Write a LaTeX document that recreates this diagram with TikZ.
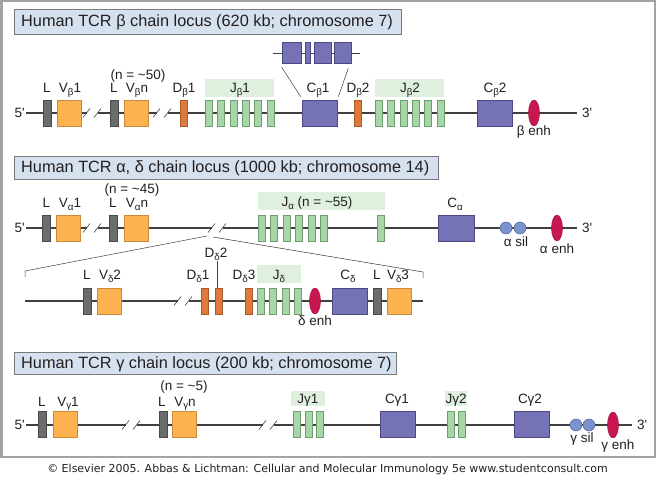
\documentclass[tikz,border=0pt]{standalone}
\usepackage{fontspec}
\setmainfont{Liberation Sans}
\newfontfamily\footfont{DejaVu Sans}
\usetikzlibrary{shapes.geometric,calc}
\definecolor{lgray}{HTML}{6B6C6E}
\definecolor{lgrayD}{HTML}{4A4A4A}
\definecolor{vorange}{HTML}{FBB24F}
\definecolor{vorangeD}{HTML}{C98A3A}
\definecolor{dorange}{HTML}{E07A3C}
\definecolor{dorangeD}{HTML}{A85A2A}
\definecolor{jgreen}{HTML}{A7D7A8}
\definecolor{jgreenD}{HTML}{6E9E6E}
\definecolor{jbandc}{HTML}{DFF0DF}
\definecolor{cpurple}{HTML}{7573B6}
\definecolor{cpurpleD}{HTML}{4A4885}
\definecolor{enhred}{HTML}{C8174F}
\definecolor{enhredD}{HTML}{9A1040}
\definecolor{silblue}{HTML}{7B93CE}
\definecolor{silblueD}{HTML}{4D6299}
\definecolor{tboxF}{HTML}{D6E1F0}
\definecolor{tboxD}{HTML}{7A7A7A}
\definecolor{framec}{HTML}{A3A3A3}
\definecolor{bb}{HTML}{404040}
\definecolor{txt}{HTML}{231F20}
\newcommand\sbs[1]{\raisebox{-2.6pt}{\fontsize{9.8}{11}\selectfont #1}}
\newcommand\prm{\textquotesingle}
\newcommand\brkmark[2]{%
  \fill[white] (#1-5.5,#2-2) rectangle (#1+5.5,#2+2);
  \draw[thinline] (#1-9,#2+4.5) -- (#1-2,#2-4.5);
  \draw[thinline] (#1+2,#2+4.5) -- (#1+9,#2-4.5);}
\tikzset{
  gene/.style={rectangle, draw, line width=0.6pt, inner sep=0pt, minimum height=26pt},
  lseg/.style={gene, fill=lgray, draw=lgrayD, minimum width=8pt},
  vseg/.style={gene, fill=vorange, draw=vorangeD, minimum width=24pt},
  dseg/.style={gene, fill=dorange, draw=dorangeD, minimum width=7pt},
  jseg/.style={gene, fill=jgreen, draw=jgreenD, minimum width=7pt},
  cseg/.style={gene, fill=cpurple, draw=cpurpleD, minimum width=35pt},
  cex/.style={gene, fill=cpurple, draw=cpurpleD, minimum height=21pt},
  enhancer/.style={ellipse, fill=enhred, draw=enhredD, line width=0.4pt, minimum width=11pt, minimum height=26pt, inner sep=0pt},
  silencer/.style={circle, fill=silblue, draw=silblueD, line width=0.5pt, minimum size=12pt, inner sep=0pt},
  jband/.style={rectangle, fill=jbandc, inner sep=0pt, minimum height=18pt},
  lab/.style={font=\fontsize{13.5}{15}\selectfont, text=txt, inner sep=0pt, anchor=base},
  ttl/.style={font=\fontsize{16.3}{18}\selectfont, text=txt, inner sep=0pt, anchor=west},
  tbox/.style={rectangle, draw=tboxD, fill=tboxF, line width=0.8pt, inner sep=0pt},
  backbone/.style={draw=bb, line width=1.2pt},
  thinline/.style={draw=bb, line width=0.6pt}
}
\begin{document}
\begin{tikzpicture}[x=1pt,y=-1pt]
\useasboundingbox (0,0) rectangle (656,478);
\fill[white] (0,0) rectangle (656,478);
\draw[draw=framec, line width=2.5pt] (1.25,1.25) rectangle (654.75,456.75);

% ================= beta locus =================
\node[tbox, minimum width=387pt, minimum height=25pt] (tb) at (207.5,21.5) {};
\node[ttl] (tbt) at (21,22) {Human TCR β chain locus (620 kb; chromosome 7)};
\coordinate (b5) at (26,113);
\coordinate (b3) at (577,113);
\draw[backbone] (b5) -- (b3);
\node[lab, anchor=base east] (b5t) at (25,118) {5\prm};
\node[lab, anchor=base west] (b3t) at (582,117.5) {3\prm};
\brkmark{92}{113}
\brkmark{162}{113}
\node[jband, minimum width=69pt] (bJ1band) at (239.5,88) {};
\node[jband, minimum width=69pt] (bJ2band) at (409.5,88) {};
\node[lseg] (bL1) at (47,113) {};
\node[vseg] (bV1) at (69,113) {};
\node[lseg] (bL2) at (114,113) {};
\node[vseg] (bVn) at (136.5,113) {};
\node[dseg] (bD1) at (183.5,113) {};
\foreach \i in {0,...,5} \node[jseg] (bJa\i) at ({208.5+12.4*\i},113) {};
\node[cseg] (bC1) at (319.5,113) {};
\node[dseg] (bD2) at (357.5,113) {};
\foreach \i in {0,...,5} \node[jseg] (bJb\i) at ({378.5+12.4*\i},113) {};
\node[cseg] (bC2) at (495,113) {};
\node[enhancer] (benh) at (534,113) {};
% C beta 1 exons inset
\coordinate (insl) at (273,53);
\coordinate (insr) at (360,53);
\draw[thinline, line width=0.9pt] (insl) -- (insr);
\node[cex, minimum width=19pt] (ex1) at (291.5,52.5) {};
\node[cex, minimum width=5pt] (ex2) at (307.5,52.5) {};
\node[cex, minimum width=17pt] (ex3) at (322.5,52.5) {};
\node[cex, minimum width=17pt] (ex4) at (342.5,52.5) {};
\draw[thinline, line width=0.5pt] ($(ex1.south west)+(0,4)$) -- ($(bC1.north west)+(-1,-3)$);
\draw[thinline, line width=0.5pt] ($(ex4.south east)+(-3,5)$) -- ($(bC1.north east)+(1,-3)$);
% labels
\node[lab] (lbL1) at (47,93) {L};
\node[lab] (lbV1) at (70,93) {V\sbs{β}1};
\node[lab] (lbn) at (138,80) {(n = \textasciitilde 50)};
\node[lab] (lbL2) at (114,93) {L};
\node[lab] (lbVn) at (137,93) {V\sbs{β}n};
\node[lab] (lbD1) at (184,93) {D\sbs{β}1};
\node[lab] (lbJ1) at (240,93) {J\sbs{β}1};
\node[lab] (lbC1) at (318,93) {C\sbs{β}1};
\node[lab] (lbD2) at (358,93) {D\sbs{β}2};
\node[lab] (lbJ2) at (410,93) {J\sbs{β}2};
\node[lab] (lbC2) at (495,93) {C\sbs{β}2};
\node[lab] (lbenh) at (534,136) {β enh};

% ================= alpha / delta locus =================
\node[tbox, minimum width=424pt, minimum height=23pt] (ta) at (226,167.5) {};
\node[ttl] (tat) at (21,168) {Human TCR α, δ chain locus (1000 kb; chromosome 14)};
\coordinate (a5) at (26,228);
\coordinate (a3) at (577,228);
\draw[backbone] (a5) -- (a3);
\node[lab, anchor=base east] (a5t) at (25,232.5) {5\prm};
\node[lab, anchor=base west] (a3t) at (582,232.5) {3\prm};
\brkmark{92}{228}
\brkmark{217}{228}
\node[jband, minimum width=127pt] (aJband) at (321.5,201) {};
\node[lseg] (aL1) at (46.5,228) {};
\node[vseg] (aV1) at (68.5,228) {};
\node[lseg] (aL2) at (113.5,228) {};
\node[vseg] (aVn) at (136,228) {};
\foreach \i in {0,...,5} \node[jseg] (aJ\i) at ({261.5+12.5*\i},228) {};
\node[jseg] (aJlast) at (381,228) {};
\node[cseg, minimum width=36pt] (aC) at (456,228) {};
\node[silencer] (asil1) at (506,228) {};
\node[silencer] (asil2) at (520,228) {};
\node[enhancer] (aenh) at (557,228) {};
\node[lab] (laL1) at (46.5,208) {L};
\node[lab] (laV1) at (70,208) {V\sbs{α}1};
\node[lab] (lan) at (132,194) {(n = \textasciitilde 45)};
\node[lab] (laL2) at (113,208) {L};
\node[lab] (laVn) at (137,208) {V\sbs{α}n};
\node[lab] (laJ) at (317,207) {J\sbs{α} (n = \textasciitilde 55)};
\node[lab] (laC) at (455,208) {C\sbs{α}};
\node[lab] (lasil) at (516,247) {α sil};
\node[lab] (laenh) at (557,254) {α enh};
% zoom bracket
\coordinate (zl0) at (207,236);
\coordinate (zr0) at (213,237);
\coordinate (zl1) at (25,271);
\coordinate (zl2) at (25,277);
\coordinate (zr1) at (423,272);
\coordinate (zr2) at (423,278);
\draw[thinline, line width=0.5pt] (zl0) -- (zl1) -- (zl2);
\draw[thinline, line width=0.5pt] (zr0) -- (zr1) -- (zr2);
% delta inset
\coordinate (d5) at (25,301);
\coordinate (d3) at (423,301);
\draw[backbone] (d5) -- (d3);
\brkmark{183}{301}
\node[jband, minimum width=44pt] (dJband) at (279,274) {};
\node[lseg] (dL1) at (87,301) {};
\node[vseg] (dV2) at (109,301) {};
\node[dseg] (dD1) at (205,301) {};
\node[dseg] (dD2) at (218.5,301) {};
\node[dseg] (dD3) at (249,301) {};
\foreach \i in {0,...,3} \node[jseg] (dJ\i) at ({261+12.2*\i},301) {};
\node[enhancer] (denh) at (315,301) {};
\node[cseg] (dC) at (349.5,301) {};
\node[lseg] (dL2) at (377,301) {};
\node[vseg] (dV3) at (399.5,301) {};
\node[lab] (ldL1) at (87,280) {L};
\node[lab] (ldV2) at (110,280) {V\sbs{δ}2};
\node[lab] (ldD1) at (198,280) {D\sbs{δ}1};
\node[lab] (ldD2) at (216,258) {D\sbs{δ}2};
\node[lab] (ldD3) at (244,280) {D\sbs{δ}3};
\node[lab] (ldJ) at (279,280) {J\sbs{δ}};
\node[lab] (ldC) at (348,280) {C\sbs{δ}};
\node[lab] (ldL2) at (377,280) {L};
\node[lab] (ldV3) at (398,280) {V\sbs{δ}3};
\node[lab] (ldenh) at (315,326) {δ enh};
\coordinate (dd2top) at ($(ldD2.base)+(1,3.5)$);
\draw[thinline, line width=0.5pt] (dd2top) -- (dd2top |- dD2.north);

% ================= gamma locus =================
\node[tbox, minimum width=382pt, minimum height=22pt] (tg) at (205,363.5) {};
\node[ttl] (tgt) at (21,364) {Human TCR γ chain locus (200 kb; chromosome 7)};
\coordinate (g5) at (26,425);
\coordinate (g3) at (632,425);
\draw[backbone] (g5) -- (g3);
\node[lab, anchor=base east] (g5t) at (25,429.5) {5\prm};
\node[lab, anchor=base west] (g3t) at (637,429.5) {3\prm};
\brkmark{131}{425}
\brkmark{268}{425}
\node[jband, minimum width=34pt, minimum height=15pt] (gJ1band) at (308,398.5) {};
\node[jband, minimum width=22pt, minimum height=15pt] (gJ2band) at (456,398.5) {};
\node[lseg] (gL1) at (42,424.5) {};
\node[vseg] (gV1) at (65,424.5) {};
\node[lseg] (gL2) at (163,424.5) {};
\node[vseg] (gVn) at (184.5,424.5) {};
\foreach \i in {0,...,2} \node[jseg] (gJa\i) at ({296.5+11.8*\i},424.5) {};
\node[cseg] (gC1) at (397.5,424.5) {};
\node[jseg] (gJb0) at (450.5,424.5) {};
\node[jseg] (gJb1) at (462,424.5) {};
\node[cseg] (gC2) at (531.5,424.5) {};
\node[silencer] (gsil1) at (576,425) {};
\node[silencer] (gsil2) at (589,425) {};
\node[enhancer] (genh) at (613,425) {};
\node[lab] (lgL1) at (42,406) {L};
\node[lab] (lgV1) at (68,406) {V\sbs{γ}1};
\node[lab] (lgn) at (184,390) {(n = \textasciitilde 5)};
\node[lab] (lgL2) at (162,406) {L};
\node[lab] (lgVn) at (185,406) {V\sbs{γ}n};
\node[lab] (lgJ1) at (308,403) {Jγ1};
\node[lab] (lgC1) at (397,403) {Cγ1};
\node[lab] (lgJ2) at (456,403) {Jγ2};
\node[lab] (lgC2) at (530,403) {Cγ2};
\node[lab] (lgsil) at (582,442) {γ sil};
\node[lab] (lgenh) at (618,449) {γ enh};

% footer
\node[font=\footfont\fontsize{11}{13}\selectfont, text=txt, inner sep=0pt, anchor=base] (foot) at (327.5,472) {© Elsevier 2005. Abbas \& Lichtman: Cellular and Molecular Immunology 5e www.studentconsult.com};
\end{tikzpicture}
\end{document}
